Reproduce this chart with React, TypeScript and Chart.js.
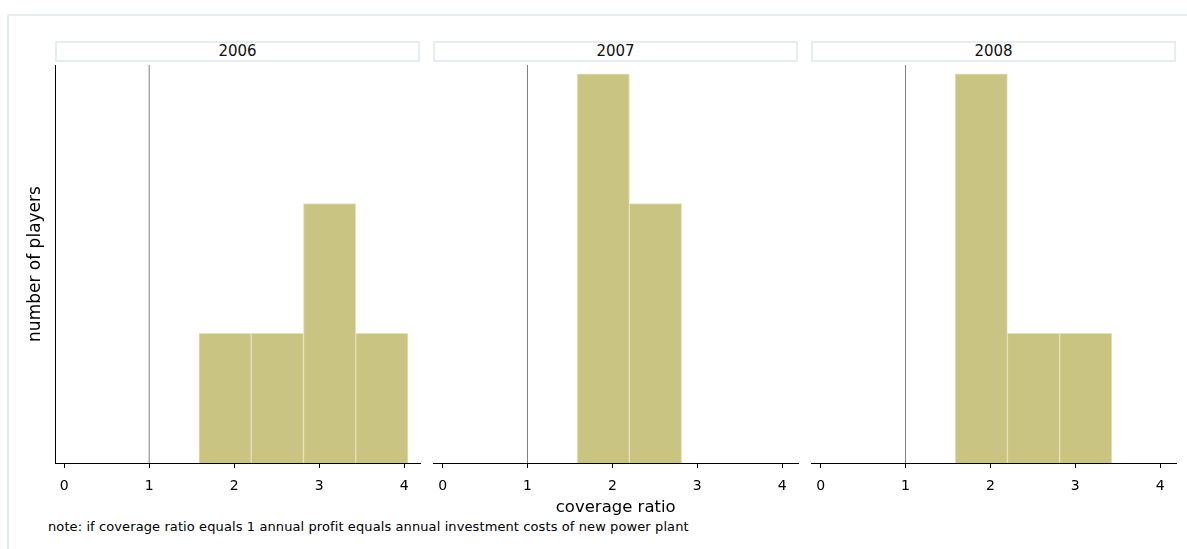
import React, { useEffect, useRef } from "react";
import { Chart, registerables } from "chart.js";

Chart.register(...registerables);

// ---- data ----
const years = ["2006", "2007", "2008"];
const binCenters = [1.8925, 2.5075, 3.1225, 3.7375];
const counts2006 = [1, 1, 2, 1];
const counts2007 = [3, 2, 0, 0];
const counts2008 = [3, 1, 1, 0];
const xTicks = [0, 1, 2, 3, 4];
const refLineX = 1;
const xTitle = "coverage ratio";
const yTitle = "number of players";
const noteText =
  "note: if coverage ratio equals 1 annual profit equals annual investment costs of new power plant";

const countsByYear = [counts2006, counts2007, counts2008];

const FONT = "'DejaVu Sans', 'Liberation Sans', Arial, sans-serif";
const BAR_FILL = "#cac483";
const BAR_EDGE = "#e6e0bb";
const FRAME = "#e5edf1";

const Y_MAX = 3.069;
const X_MIN = -0.108;
const X_MAX = 4.186;

// panel geometry (page coords)
const PANEL_LEFTS = [55, 433, 811];
const PANEL_W = 365;
const PLOT_TOP = 65;
const PLOT_H = 398;
const XAXIS_H = 56;

function Panel({ idx }: { idx: number }) {
  const ref = useRef<HTMLCanvasElement | null>(null);
  const first = idx === 0;
  const padL = first ? 0 : 5;
  const yW = first ? 35 : 0;
  const canvasLeft = PANEL_LEFTS[idx] - padL - yW;
  const canvasW = padL + yW + PANEL_W + 5;
  const canvasTop = PLOT_TOP - 5;
  const canvasH = 5 + PLOT_H + XAXIS_H;

  useEffect(() => {
    if (!ref.current) return;
    const counts = countsByYear[idx];
    const barData = binCenters
      .map((c, i) => ({ x: c, y: counts[i] }))
      .filter((d) => d.y > 0);
    const chart = new Chart(ref.current, {
      type: "bar",
      data: {
        datasets: [
          {
            type: "bar",
            data: barData,
            backgroundColor: BAR_FILL,
            borderColor: BAR_EDGE,
            borderWidth: 1,
            borderSkipped: "start",
            barPercentage: 1,
            categoryPercentage: 1,
            order: 2,
          } as any,
          {
            type: "line",
            data: [
              { x: refLineX, y: 0 },
              { x: refLineX, y: Y_MAX },
            ],
            borderColor: "#808080",
            borderWidth: 1,
            pointRadius: 0,
            order: 1,
          } as any,
        ],
      },
      options: {
        animation: false,
        responsive: false,
        devicePixelRatio: 1,
        layout: { padding: { left: padL, right: 5, top: 5, bottom: 0 } },
        plugins: {
          legend: { display: false },
          tooltip: { enabled: false },
          title: { display: false },
        },
        scales: {
          x: {
            type: "linear",
            min: X_MIN,
            max: X_MAX,
            offset: false,
            afterBuildTicks: (s: any) => {
              s.ticks = xTicks.map((v) => ({ value: v }));
            },
            afterFit: (s: any) => {
              s.height = XAXIS_H;
            },
            grid: {
              display: true,
              drawOnChartArea: false,
              drawTicks: true,
              tickLength: 5,
              color: "#000",
              offset: false,
            },
            border: { display: true, color: "#000", width: 1 },
            ticks: {
              color: "#000",
              font: { family: FONT, size: 14 },
              padding: 10,
              maxRotation: 0,
              autoSkip: false,
            },
            title: {
              display: idx === 1,
              text: xTitle,
              color: "#000",
              font: { family: FONT, size: 16.5 },
              padding: { top: 0, bottom: 1 },
            },
          },
          y: {
            type: "linear",
            min: 0,
            max: Y_MAX,
            afterFit: (s: any) => {
              s.width = yW;
            },
            grid: { display: false, drawTicks: false },
            border: { display: first, color: "#000", width: 1 },
            ticks: { display: false },
            title: {
              display: first,
              text: yTitle,
              color: "#000",
              font: { family: FONT, size: 17 },
              padding: { top: 5, bottom: 0 },
            },
          },
        },
      } as any,
    });
    return () => chart.destroy();
  }, [idx]);

  return (
    <>
      <div
        style={{
          position: "absolute",
          left: PANEL_LEFTS[idx],
          top: 41,
          width: PANEL_W,
          height: 21,
          boxSizing: "border-box",
          border: `2px solid ${FRAME}`,
          fontFamily: FONT,
          fontSize: 15,
          lineHeight: "17px",
          textAlign: "center",
          color: "#111",
        }}
      >
        {years[idx]}
      </div>
      <canvas
        ref={ref}
        width={canvasW}
        height={canvasH}
        style={{
          position: "absolute",
          left: canvasLeft,
          top: canvasTop,
          width: canvasW,
          height: canvasH,
          display: "block",
        }}
      />
    </>
  );
}

export default function App() {
  return (
    <div
      style={{
        position: "absolute",
        left: 0,
        top: 0,
        width: 1187,
        height: 549,
        overflow: "hidden",
        background: "#fff",
      }}
    >
      <div
        style={{
          position: "absolute",
          left: 7,
          top: 14,
          width: 1300,
          height: 700,
          borderTop: `2px solid ${FRAME}`,
          borderLeft: `2px solid ${FRAME}`,
        }}
      />
      {years.map((_, i) => (
        <Panel key={i} idx={i} />
      ))}
      <div
        style={{
          position: "absolute",
          left: 48,
          top: 519,
          fontFamily: FONT,
          fontSize: 13,
          lineHeight: "16px",
          letterSpacing: "0.1px",
          color: "#000",
          whiteSpace: "nowrap",
        }}
      >
        {noteText}
      </div>
    </div>
  );
}
